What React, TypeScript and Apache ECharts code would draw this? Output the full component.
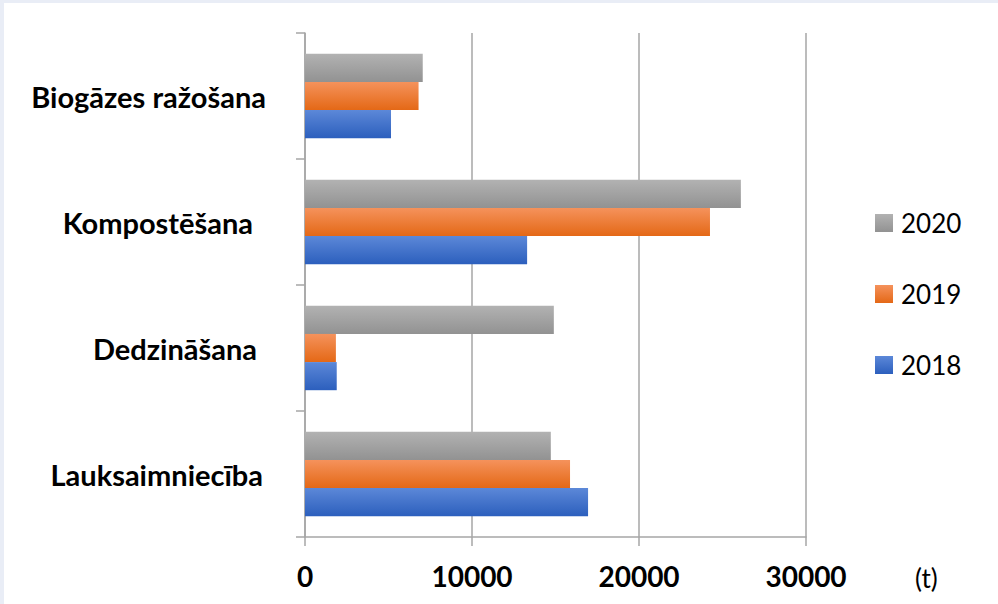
import React, { useEffect, useRef } from "react";
import * as echarts from "echarts";

const categories = ["Lauksaimniecība", "Dedzināšana", "Kompostēšana", "Biogāzes ražošana"];
const labelRightPad = [3, 9, 13, 0];
const seriesNames = ["2020", "2019", "2018"];
const values2018 = [16950, 1900, 13300, 5150];
const values2019 = [15870, 1850, 24250, 6800];
const values2020 = [14720, 14900, 26100, 7050];
const xTicks = [0, 10000, 20000, 30000];
const unitLabel = "(t)";

const FONT = "Lato, 'Open Sans', sans-serif";

const grad = (top: string, bottom: string) =>
  new echarts.graphic.LinearGradient(0, 0, 0, 1, [
    { offset: 0, color: top },
    { offset: 1, color: bottom },
  ]);

const colors: Record<string, any> = {
  "2018": grad("#5c88d8", "#2c5fbd"),
  "2019": grad("#f5925c", "#e46816"),
  "2020": grad("#b2b2b2", "#929292"),
};

export default function App() {
  const ref = useRef<HTMLDivElement>(null);
  useEffect(() => {
    if (!ref.current) return;
    const chart = echarts.init(ref.current, undefined, { renderer: "svg" });
    const valuesByName: Record<string, number[]> = {
      "2018": values2018,
      "2019": values2019,
      "2020": values2020,
    };
    const rich: Record<string, any> = {};
    categories.forEach((_, i) => {
      rich["c" + i] = {
        fontFamily: FONT,
        fontWeight: "bold",
        fontSize: 29,
        color: "#000",
        padding: [0, labelRightPad[i], 0, 0],
      };
    });
    chart.setOption({
      animation: false,
      backgroundColor: "#ffffff",
      textStyle: { fontFamily: FONT },
      grid: { left: 305, right: 192, top: 33, bottom: 67, containLabel: false },
      legend: {
        orient: "vertical",
        left: 870,
        top: 205,
        itemWidth: 18,
        itemHeight: 18,
        itemGap: 45,
        data: ["2020", "2019", "2018"],
        textStyle: { fontFamily: FONT, fontSize: 26, lineHeight: 26, color: "#000", padding: [0, 0, 0, 3] },
        icon: "rect",
      },
      xAxis: {
        type: "value",
        min: xTicks[0],
        max: xTicks[xTicks.length - 1],
        interval: xTicks[1] - xTicks[0],
        axisLine: { show: true, lineStyle: { color: "#a6a6a6", width: 1.5 } },
        axisTick: { show: true, length: 9, lineStyle: { color: "#a6a6a6", width: 1.5 } },
        splitLine: { show: true, lineStyle: { color: "#a6a6a6", width: 1.5 } },
        axisLabel: {
          fontFamily: FONT,
          fontWeight: "bold",
          fontSize: 28,
          color: "#000",
          margin: 25,
          formatter: (v: number) => String(v),
        },
      },
      yAxis: {
        type: "category",
        data: categories,
        axisLine: { show: true, lineStyle: { color: "#a6a6a6", width: 1.5 } },
        axisTick: { show: true, length: 9, lineStyle: { color: "#a6a6a6", width: 1.5 } },
        axisLabel: {
          margin: 39,
          formatter: (v: string) => {
            const i = categories.indexOf(v);
            return "{c" + i + "|" + v + "}";
          },
          rich,
        },
      },
      graphic: [
        { type: "rect", z: 100, shape: { x: 0, y: 0, width: 998, height: 3 }, style: { fill: "#e9edf6" } },
        { type: "rect", z: 100, shape: { x: 0, y: 0, width: 4, height: 604 }, style: { fill: "#e9edf6" } },
        {
          type: "text",
          left: 915,
          top: 565,
          style: { text: unitLabel, font: "26px " + FONT, fill: "#000" },
        },
      ],
      series: seriesNames.map((name) => ({
        name,
        type: "bar",
        data: valuesByName[name],
        barGap: "0%",
        barCategoryGap: "33%",
        itemStyle: { color: colors[name] },
      })),
    });
    return () => chart.dispose();
  }, []);
  return (
    <div
      ref={ref}
      style={{ position: "fixed", left: 0, top: 0, width: 998, height: 604 }}
    />
  );
}
